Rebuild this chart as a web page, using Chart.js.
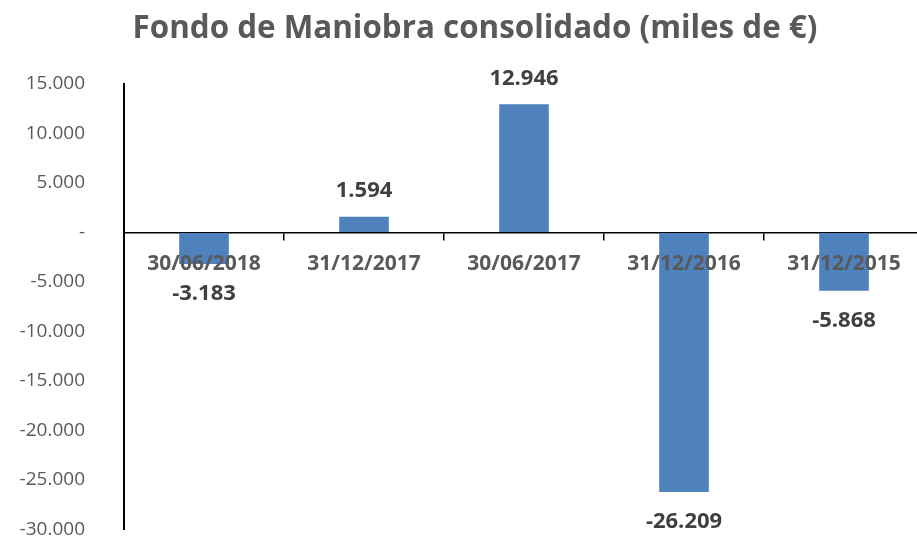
<!DOCTYPE html>
<html><head><meta charset="utf-8">
<script src="https://cdn.jsdelivr.net/npm/chart.js@4"></script>
<style>html,body{margin:0;padding:0;overflow:hidden;background:#fff}#wrap{position:relative;width:925px;height:580px}</style>
</head><body><div id="wrap"><canvas id="c"></canvas></div>
<script>
const chartTitle = 'Fondo de Maniobra consolidado (miles de €)';
const categories = ['30/06/2018', '31/12/2017', '30/06/2017', '31/12/2016', '31/12/2015'];
const values = [-3183, 1594, 12946, -26209, -5868];
const yMin = -30000, yMax = 15000, yStep = 5000;

function fmt(v) {
  if (v === 0) return '-';
  const s = Math.abs(v).toString().replace(/\B(?=(\d{3})+(?!\d))/g, '.');
  return (v < 0 ? '-' : '') + s;
}

const grey = '#595959', dark = '#404040';
const FONT = '"Open Sans", sans-serif';

const titlePlugin = {
  id: 'customTitle',
  afterDraw(chart) {
    const ctx = chart.ctx;
    ctx.save();
    let size = 30;
    ctx.font = 'bold ' + size + 'px ' + FONT;
    const w = ctx.measureText(chartTitle).width;
    size = size * 685 / w;
    ctx.font = 'bold ' + size.toFixed(2) + 'px ' + FONT;
    ctx.fillStyle = grey;
    ctx.textAlign = 'center';
    ctx.textBaseline = 'middle';
    ctx.fillText(chartTitle, 475, 29);
    ctx.restore();
  }
};

const valueLabels = {
  id: 'valueLabels',
  afterDatasetsDraw(chart) {
    const ctx = chart.ctx;
    const meta = chart.getDatasetMeta(0);
    ctx.save();
    ctx.font = 'bold 22px ' + FONT;
    ctx.fillStyle = dark;
    ctx.textAlign = 'center';
    ctx.textBaseline = 'middle';
    meta.data.forEach((bar, i) => {
      const v = values[i];
      const y = v >= 0 ? bar.y - 26 : bar.y + 30;
      ctx.fillText(fmt(v), bar.x, y);
    });
    ctx.restore();
  }
};

new Chart(document.getElementById('c'), {
  type: 'bar',
  data: {
    labels: categories,
    datasets: [{
      data: values,
      backgroundColor: '#4F81BD',
      borderWidth: 0,
      categoryPercentage: 1,
      barPercentage: 0.31
    }]
  },
  options: {
    responsive: true,
    maintainAspectRatio: false,
    animation: false,
    layout: { padding: { left: 0, top: 84, right: 1, bottom: 0 } },
    plugins: { legend: { display: false }, title: { display: false }, tooltip: { enabled: false } },
    scales: {
      x: {
        position: { y: 0 },
        grid: { offset: true, drawOnChartArea: false, drawTicks: true, tickLength: 7, color: '#000', lineWidth: 1.5 },
        border: { color: '#000', width: 1.5 },
        ticks: { z: 1, color: grey, font: { family: FONT, size: 21, weight: 'bold' }, padding: 12, maxRotation: 0, autoSkip: false }
      },
      y: {
        min: yMin, max: yMax,
        afterFit(s) { s.width = 124; },
        grid: { drawOnChartArea: false, drawTicks: false },
        border: { color: '#000', width: 2 },
        ticks: { stepSize: yStep, callback: v => fmt(v), color: grey, font: { family: FONT, size: 19 }, padding: 39 }
      }
    }
  },
  plugins: [titlePlugin, valueLabels]
});
</script>
</body></html>
